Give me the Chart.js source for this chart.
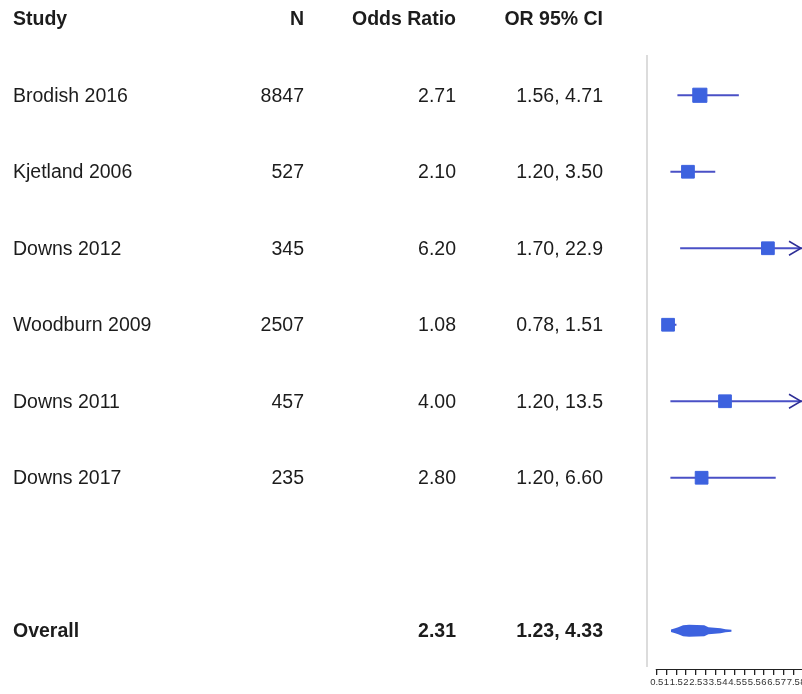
<!DOCTYPE html>
<html>
<head>
<meta charset="utf-8">
<script src="https://cdn.jsdelivr.net/npm/chart.js@4.4.1/dist/chart.umd.min.js"></script>
<style>
  html, body { margin: 0; padding: 0; background: #fff; overflow: hidden; }
  #wrap { width: 830px; height: 694px; }
</style>
</head>
<body>
<div id="wrap"><canvas id="forest" width="830" height="694"></canvas></div>
<script>
// data
const studies = ['Brodish 2016', 'Kjetland 2006', 'Downs 2012', 'Woodburn 2009', 'Downs 2011', 'Downs 2017'];
const nValues = [8847, 527, 345, 2507, 457, 235];
const oddsRatios = [2.71, 2.10, 6.20, 1.08, 4.00, 2.80];
const ciLower = [1.56, 1.20, 1.70, 0.78, 1.20, 1.20];
const ciUpper = [4.71, 3.50, 22.9, 1.51, 13.5, 6.60];
const ciText = ['1.56, 4.71', '1.20, 3.50', '1.70, 22.9', '0.78, 1.51', '1.20, 13.5', '1.20, 6.60'];
const overallLabel = 'Overall';
const overallOR = 2.31;
const overallLower = 1.23;
const overallUpper = 4.33;
const overallRow = 7;
const headers = ['Study', 'N', 'Odds Ratio', 'OR 95% CI'];
const xTicks = [0.5, 1, 1.5, 2, 2.5, 3, 3.5, 4, 4.5, 5, 5.5, 6, 6.5, 7, 7.5, 8];

const xMin = 0, xMax = 8;
const squareColor = '#3d62df';
const lineColor = '#4a50c6';
const textFont = '"Liberation Sans", Arial, sans-serif';

// CI line datasets, one per study
const ciSets = studies.map((s, i) => ({
  label: s + ' CI',
  data: [{x: ciLower[i], y: i}, {x: Math.min(ciUpper[i], xMax), y: i}],
  showLine: true,
  borderColor: lineColor,
  borderWidth: 2,
  pointRadius: 0,
}));

const forestPlugin = {
  id: 'forest',
  afterDraw(chart) {
    const {ctx, chartArea: {left, right, top, bottom}, scales: {x, y}} = chart;
    ctx.save();

    // left reference line
    ctx.strokeStyle = '#dcdcdc';
    ctx.lineWidth = 2;
    ctx.beginPath();
    ctx.moveTo(left, top - 2);
    ctx.lineTo(left, bottom - 2);
    ctx.stroke();

    // axis line
    ctx.strokeStyle = '#222';
    ctx.lineWidth = 1.2;
    ctx.beginPath();
    ctx.moveTo(x.getPixelForValue(xTicks[0]) - 1, bottom + 0.5);
    ctx.lineTo(x.getPixelForValue(xTicks[xTicks.length - 1]), bottom + 0.5);
    ctx.stroke();

    // arrows for clipped CIs
    ctx.strokeStyle = '#2e2e96';
    ctx.lineWidth = 1.5;
    ciUpper.forEach((hi, i) => {
      if (hi <= xMax) return;
      const tip = right - 2;
      const py = y.getPixelForValue(i);
      ctx.beginPath();
      ctx.moveTo(tip - 12, py - 7);
      ctx.lineTo(tip, py);
      ctx.lineTo(tip - 12, py + 7);
      ctx.stroke();
    });

    // overall diamond
    const lo = x.getPixelForValue(overallLower);
    const hi = x.getPixelForValue(overallUpper);
    const w = hi - lo;
    const oy = y.getPixelForValue(overallRow);
    const prof = [[0, 1.2], [0.07, 2.5], [0.12, 3.5], [0.2, 5.5], [0.3, 6], [0.55, 5.5], [0.62, 3.5], [0.82, 2.5], [0.9, 1.5], [1, 1]];
    ctx.fillStyle = squareColor;
    ctx.beginPath();
    prof.forEach(([f, h], k) => {
      if (k === 0) ctx.moveTo(lo + f * w, oy - h); else ctx.lineTo(lo + f * w, oy - h);
    });
    for (let k = prof.length - 1; k >= 0; k--) ctx.lineTo(lo + prof[k][0] * w, oy + prof[k][1]);
    ctx.closePath();
    ctx.fill();

    // text table
    const colX = [13, 304, 456, 603];
    const colAlign = ['left', 'right', 'right', 'right'];
    ctx.fillStyle = '#1c1c1c';
    ctx.textBaseline = 'middle';
    const hy = y.getPixelForValue(-1) + 1;
    ctx.font = 'bold 19.5px ' + textFont;
    headers.forEach((h, c) => {
      ctx.textAlign = colAlign[c];
      ctx.fillText(h, colX[c], hy);
    });
    ctx.font = '19.5px ' + textFont;
    studies.forEach((s, i) => {
      const py = y.getPixelForValue(i) + 1;
      const cells = [s, String(nValues[i]), oddsRatios[i].toFixed(2), ciText[i]];
      cells.forEach((t, c) => {
        ctx.textAlign = colAlign[c];
        ctx.fillText(t, colX[c], py);
      });
    });
    ctx.font = 'bold 19.5px ' + textFont;
    const py = y.getPixelForValue(overallRow) + 1;
    ctx.textAlign = 'left';
    ctx.fillText(overallLabel, colX[0], py);
    ctx.textAlign = 'right';
    ctx.fillText(overallOR.toFixed(2), colX[2], py);
    ctx.fillText(overallLower.toFixed(2) + ', ' + overallUpper.toFixed(2), colX[3], py);

    ctx.restore();
  }
};

const forestChart = new Chart(document.getElementById('forest'), {
  type: 'scatter',
  data: {
    datasets: [{
      label: 'Odds Ratio',
      data: oddsRatios.map((v, i) => ({x: v, y: i})),
      pointStyle: 'rect',
      pointRadius: [10, 9, 9, 9, 9, 9],
      backgroundColor: squareColor,
      borderColor: squareColor,
      borderWidth: 1,
    }, ...ciSets]
  },
  options: {
    responsive: false,
    animation: false,
    devicePixelRatio: 1,
    layout: { padding: { left: 647, right: 27, top: 57, bottom: 0 } },
    scales: {
      x: {
        type: 'linear',
        min: xMin,
        max: xMax,
        position: 'bottom',
        afterBuildTicks: (scale) => { scale.ticks = xTicks.map(v => ({value: v})); },
        afterFit: (scale) => { scale.height = 25; },
        border: { display: false },
        grid: { drawOnChartArea: false, drawTicks: true, tickLength: 6, color: '#222', lineWidth: 1.3 },
        ticks: {
          autoSkip: false,
          maxRotation: 0,
          minRotation: 0,
          padding: 2,
          color: '#333',
          font: { size: 9.5, family: textFont },
          callback: (v) => String(v)
        }
      },
      y: {
        type: 'linear',
        min: -0.5,
        max: 7.5,
        reverse: true,
        display: false
      }
    },
    plugins: {
      legend: { display: false },
      tooltip: { enabled: false }
    }
  },
  plugins: [forestPlugin]
});
</script>
</body>
</html>
